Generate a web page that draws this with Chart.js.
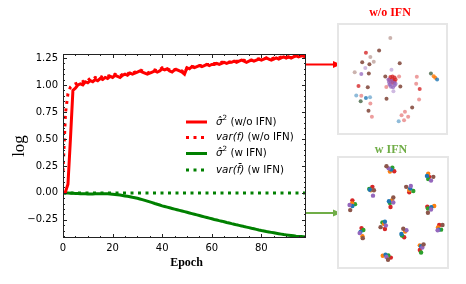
<!DOCTYPE html>
<html><head><meta charset="utf-8">
<script src="https://cdn.jsdelivr.net/npm/chart.js@4/dist/chart.umd.min.js"></script>
<style>
html,body{margin:0;padding:0;background:#fff;}
#wrap{position:relative;width:466px;height:284px;overflow:hidden;background:#fff;}
#main{position:absolute;left:0;top:0;}
.box{position:absolute;border:2px solid #e6e6e6;box-sizing:border-box;background:#fff;}
.box canvas{display:block;}
.ptitle{position:absolute;font:bold 12px "Liberation Serif",serif;text-align:center;width:100px;}
</style></head><body>
<div id="wrap">
<canvas id="main" width="466" height="284"></canvas>
<div class="ptitle" style="left:340px;top:5px;color:#ff0000">w/o IFN</div>
<div class="box" style="left:337px;top:23px;width:111px;height:112px"><canvas id="topP" width="107" height="108"></canvas></div>
<div class="ptitle" style="left:341px;top:142px;color:#70ad47">w IFN</div>
<div class="box" style="left:337px;top:156px;width:112px;height:113px"><canvas id="botP" width="108" height="109"></canvas></div>
</div>
<script>
// ---------- main chart data ----------
const epochs = [0,1,2,3,4,5,6,7,8,9,10,11,12,13,14,15,16,17,18,19,20,21,22,23,24,25,26,27,28,29,30,31,32,33,34,35,36,37,38,39,40,41,42,43,44,45,46,47,48,49,50,51,52,53,54,55,56,57,58,59,60,61,62,63,64,65,66,67,68,69,70,71,72,73,74,75,76,77,78,79,80,81,82,83,84,85,86,87,88,89,90,91,92,93,94,95,96,97,98];
const sigmaWoIFN = [0.00,0.01,0.08,0.50,0.95,0.97,1.00,1.01,1.00,1.03,1.02,1.04,1.03,1.05,1.04,1.06,1.05,1.07,1.06,1.08,1.07,1.09,1.08,1.07,1.09,1.10,1.09,1.11,1.10,1.11,1.12,1.13,1.12,1.11,1.10,1.11,1.12,1.13,1.12,1.13,1.15,1.14,1.15,1.13,1.12,1.14,1.14,1.13,1.12,1.10,1.16,1.15,1.17,1.16,1.17,1.18,1.17,1.18,1.19,1.18,1.19,1.19,1.20,1.19,1.20,1.21,1.20,1.21,1.21,1.22,1.21,1.22,1.23,1.22,1.21,1.22,1.23,1.22,1.23,1.24,1.23,1.24,1.25,1.24,1.23,1.24,1.25,1.24,1.25,1.26,1.25,1.26,1.25,1.26,1.27,1.26,1.27,1.27,1.25];
const varWoIFN = [0.20,0.74,0.92,0.98,1.00,1.01,1.02,1.03,1.03,1.05,1.04,1.06,1.05,1.07,1.06,1.08,1.07,1.08,1.08,1.09,1.08,1.10,1.09,1.08,1.10,1.11,1.10,1.12,1.11,1.12,1.13,1.14,1.13,1.12,1.11,1.12,1.13,1.14,1.13,1.14,1.16,1.15,1.15,1.14,1.13,1.14,1.15,1.14,1.13,1.11,1.16,1.16,1.17,1.17,1.18,1.18,1.18,1.18,1.19,1.19,1.19,1.20,1.20,1.20,1.21,1.21,1.21,1.21,1.22,1.22,1.22,1.22,1.23,1.23,1.22,1.23,1.23,1.23,1.24,1.24,1.24,1.24,1.25,1.25,1.24,1.25,1.25,1.25,1.26,1.26,1.26,1.26,1.26,1.27,1.27,1.27,1.27,1.27,1.26];
const sigmaWIFN = [0.000,-0.001,-0.002,-0.003,-0.004,-0.005,-0.006,-0.007,-0.008,-0.009,-0.010,-0.010,-0.010,-0.009,-0.009,-0.008,-0.008,-0.008,-0.009,-0.010,-0.012,-0.014,-0.017,-0.020,-0.024,-0.028,-0.032,-0.036,-0.041,-0.045,-0.050,-0.056,-0.062,-0.069,-0.076,-0.083,-0.090,-0.098,-0.105,-0.112,-0.120,-0.126,-0.132,-0.138,-0.144,-0.150,-0.156,-0.162,-0.168,-0.174,-0.180,-0.186,-0.192,-0.198,-0.204,-0.210,-0.216,-0.222,-0.228,-0.234,-0.240,-0.246,-0.251,-0.257,-0.262,-0.268,-0.274,-0.279,-0.285,-0.290,-0.296,-0.301,-0.306,-0.312,-0.317,-0.322,-0.328,-0.333,-0.338,-0.344,-0.349,-0.353,-0.358,-0.362,-0.366,-0.370,-0.374,-0.378,-0.382,-0.386,-0.389,-0.392,-0.395,-0.398,-0.401,-0.403,-0.405,-0.407,-0.409];
const varWIFN = [0,0,0,0,0,0,0,0,0,0,0,0,0,0,0,0,0,0,0,0,0,0,0,0,0,0,0,0,0,0,0,0,0,0,0,0,0,0,0,0,0,0,0,0,0,0,0,0,0,0,0,0,0,0,0,0,0,0,0,0,0,0,0,0,0,0,0,0,0,0,0,0,0,0,0,0,0,0,0,0,0,0,0,0,0,0,0,0,0,0,0,0,0,0,0,0,0,0,0];
const xTicks = [0,20,40,60,80];
const yTicks = [-0.25,0,0.25,0.5,0.75,1.0,1.25];
const seriesNames = ['σ̂² (w/o IFN)','var(f) (w/o IFN)','σ̂² (w IFN)','var(f̄) (w IFN)'];

// ---------- side panel data (embedding scatter, panel units 0-100) ----------
const woBrown = [[37,77.3],[20.6,66.1],[27.6,64.2],[57,65.2],[27,55.2],[43,52.4],[57.6,42.7],[26,42.1],[44.2,30.9],[26.7,19.4],[69.1,22.7]];
const woBrownLight = [[47.9,89.4],[28.5,71.2],[31.8,66.7],[13.3,56.4]];
const woRed = [[17,43.3],[76.4,40.3],[24.2,75.2],[48,52],[50,52.5],[52,51.5],[53,49.5],[52,47.5],[50,46.5],[48,47.5],[47,49.5],[50,49.5],[51,48]];
const woRedLight = [[56.4,52.4],[44,42.4],[73.6,52.1],[73,45.5],[75.8,30.3],[19.7,33.9],[28.5,26.4],[30,13.6],[62.1,18.5],[58.8,15.2],[65.2,13.6],[61.2,10.3]];
const woPurple = [[19.7,54.8],[46.5,47],[47,44.5],[48.5,42.5],[50.5,42],[52,44],[51.5,46.5],[49,48],[46,49.5],[48,45],[53,45.5]];
const woPurpleLight = [[23.6,60.6],[49,58.8],[50.9,38.2]];
const woBlue = [[24.2,31.8],[93.3,49.4]];
const woBlueLight = [[14.8,34.2],[28.2,32.4],[56,9.4]];
const woOrange = [[90,52.7],[91.5,51.2]];
const woOlive = [[87.3,55.2],[19.1,28.5]];

const wBrown  = [[43.7,94.3],[88.9,84.1],[31.6,71.2],[62.7,74.5],[50.3,64.3],[8.7,52.3],[83.7,49.8],[38,36],[20.8,25.5],[59.9,34.5],[97.9,38.1],[79.5,19.5],[45.2,4.8]];
const wPurple = [[45.8,92.2],[86.7,80.5],[30.7,66.1],[67.2,75.4],[50.3,59.5],[8.1,57.1],[86.7,52.9],[43.1,37.5],[17.8,30.3],[63,33],[93.1,33],[78.3,16.5],[43.7,7.5]];
const wOrange = [[47,89.2],[84,87.1],[28.6,71.2],[65.7,71.5],[48.8,61.6],[10.5,58.6],[89.8,56.2],[41.3,39],[20.5,27.3],[61.7,31.8],[93.4,35.7],[75.9,18.6],[40.1,8.7]];
const wGreen  = [[49.4,92.8],[84,82],[27.1,72.4],[69.6,70.6],[47,59.2],[13.3,58],[83.7,53.8],[39.8,40.5],[21.4,33.3],[58.7,27.9],[96.4,33.6],[77.1,11.7],[45.5,9]];
const wRed    = [[51.2,89.5],[84.9,84.1],[30.1,74.5],[65.7,69.4],[47.6,55.3],[10.8,61.6],[83.1,55.6],[42.2,34.2],[19.6,35.1],[60.8,26.4],[94.6,38.1],[75.9,14.1],[47.9,6.9]];
const wBlue   = [[48.2,91],[82.8,85],[27.7,71.8],[66.6,73],[46.1,60.7],[10.8,56.2],[87,55],[42.2,41.1],[18.7,31.5],[58.1,29.4],[94,33.6],[77.1,17.7],[42.8,9.6]];

// ---------- main chart ----------
const RED = '#ff0000', GREEN = '#008000';
const toXY = arr => arr.map((v,i)=>({x:epochs[i], y:v}));

function drawMixed(ctx, parts, x, y, size){
  let cx = x;
  for (const p of parts){
    const fs = p.sup ? size*0.7 : size;
    ctx.font = (p.it ? 'italic ' : '') + fs + 'px "DejaVu Sans"';
    ctx.fillText(p.t, cx, y - (p.sup ? size*0.42 : 0));
    cx += ctx.measureText(p.t).width;
  }
}

const decoPlugin = {
  id:'deco',
  afterDatasetsDraw(chart){
    const {ctx, chartArea:a, scales:{x, y}} = chart;
    ctx.save();
    // frame
    ctx.strokeStyle = '#222'; ctx.lineWidth = 1;
    ctx.strokeRect(a.left+0.5, a.top+0.5, a.right-a.left-1, a.bottom-a.top-1);
    // ticks, inward on all four sides
    ctx.beginPath();
    const major = 4, minor = 2;
    for (let v = x.min; v <= x.max + 1e-9; v += 5){
      const px = Math.round(x.getPixelForValue(v)) + 0.5;
      const L = (v % 20 === 0) ? major : minor;
      ctx.moveTo(px, a.bottom); ctx.lineTo(px, a.bottom - L);
      ctx.moveTo(px, a.top); ctx.lineTo(px, a.top + L);
    }
    const y0 = Math.ceil(y.min/0.05)*0.05;
    for (let v = y0; v <= y.max + 1e-9; v += 0.05){
      const py = Math.round(y.getPixelForValue(v)) + 0.5;
      const isMaj = Math.abs(Math.round(v/0.25)*0.25 - v) < 1e-6;
      const L = isMaj ? major : minor;
      ctx.moveTo(a.left, py); ctx.lineTo(a.left + L, py);
      ctx.moveTo(a.right, py); ctx.lineTo(a.right - L, py);
    }
    ctx.stroke();

    // legend
    const rows = [122, 137.5, 153.5, 170];
    const textParts = [
      [{t:'σ̂',it:true},{t:'2',sup:true},{t:' (w/o IFN)'}],
      [{t:'var(f)',it:true},{t:' (w/o IFN)'}],
      [{t:'σ̂',it:true},{t:'2',sup:true},{t:' (w IFN)'}],
      [{t:'var(f̄)',it:true},{t:' (w IFN)'}]
    ];
    chart.data.datasets.forEach((ds, i) => {
      const yy = rows[i];
      ctx.strokeStyle = ds.borderColor; ctx.lineWidth = ds.borderWidth;
      ctx.setLineDash(ds.borderDash || []);
      ctx.lineCap = 'butt';
      ctx.beginPath(); ctx.moveTo(186, yy); ctx.lineTo(207, yy); ctx.stroke();
      ctx.setLineDash([]);
      ctx.fillStyle = '#000'; ctx.textBaseline = 'middle'; ctx.textAlign = 'left';
      drawMixed(ctx, textParts[i], 216, yy, 10.3);
    });

    // axis titles
    ctx.fillStyle = '#000';
    ctx.textAlign = 'center'; ctx.textBaseline = 'middle';
    ctx.font = 'bold 12px "Liberation Serif"';
    ctx.fillText('Epoch', (a.left + a.right)/2 + 2, 263);
    ctx.save();
    ctx.translate(20, (a.top + a.bottom)/2);
    ctx.rotate(-Math.PI/2);
    ctx.font = '17px "Liberation Serif"';
    ctx.fillText('log', 0, 0);
    ctx.restore();

    // arrows to side panels
    const arrow = (x1, x2, yy, col) => {
      ctx.strokeStyle = col; ctx.fillStyle = col; ctx.lineWidth = 2;
      ctx.beginPath(); ctx.moveTo(x1, yy); ctx.lineTo(x2 - 6, yy); ctx.stroke();
      ctx.beginPath(); ctx.moveTo(x2, yy); ctx.lineTo(x2 - 8, yy - 3.5); ctx.lineTo(x2 - 8, yy + 3.5); ctx.closePath(); ctx.fill();
    };
    arrow(a.right, 341, 64.5, RED);
    arrow(a.right, 341, 213, '#70ad47');
    ctx.restore();
  }
};

new Chart(document.getElementById('main'), {
  type: 'line',
  data: {
    datasets: [
      {label: seriesNames[0], data: toXY(sigmaWoIFN), borderColor: RED, borderWidth: 3, pointRadius: 0, tension: 0},
      {label: seriesNames[1], data: toXY(varWoIFN), borderColor: RED, borderWidth: 3, borderDash: [3,4.5], pointRadius: 0, tension: 0},
      {label: seriesNames[2], data: toXY(sigmaWIFN), borderColor: GREEN, borderWidth: 3, pointRadius: 0, tension: 0},
      {label: seriesNames[3], data: toXY(varWIFN), borderColor: GREEN, borderWidth: 3, borderDash: [3,4.5], pointRadius: 0, tension: 0}
    ]
  },
  options: {
    responsive: false, animation: false,
    layout: {padding: {left: 0, right: 160, top: 54, bottom: 0}},
    plugins: {legend: {display: false}, tooltip: {enabled: false}},
    scales: {
      x: {
        type: 'linear', min: 0, max: 98,
        grid: {display: false, drawTicks: false}, border: {display: false},
        afterBuildTicks: s => { s.ticks = xTicks.map(v => ({value: v})); },
        afterFit: s => { s.height = 46; },
        ticks: {color: '#000', font: {family: 'DejaVu Sans', size: 10}, padding: 4, maxRotation: 0, autoSkip: false,
                callback: v => String(v)}
      },
      y: {
        type: 'linear', min: -0.418, max: 1.287,
        grid: {display: false, drawTicks: false}, border: {display: false},
        afterBuildTicks: s => { s.ticks = yTicks.map(v => ({value: v})); },
        afterFit: s => { s.width = 63; },
        ticks: {color: '#000', font: {family: 'DejaVu Sans', size: 10}, padding: 5, autoSkip: false,
                callback: v => (v < 0 ? '\u2212' : '') + Math.abs(v).toFixed(2)}
      }
    }
  },
  plugins: [decoPlugin]
});

// ---------- side panels ----------
const pts = arr => arr.map(p => ({x: p[0], y: p[1]}));
const sc = (arr, col, r) => ({data: pts(arr), backgroundColor: col, borderWidth: 0, pointRadius: r || 2, pointHoverRadius: 0});
const panelOpts = {
  responsive: false, animation: false, events: [],
  layout: {padding: 0},
  plugins: {legend: {display: false}, tooltip: {enabled: false}},
  scales: {x: {type: 'linear', min: 0, max: 100, display: false}, y: {type: 'linear', min: 0, max: 100, display: false}}
};
new Chart(document.getElementById('topP'), {
  type: 'scatter',
  data: {datasets: [
    sc(woBrownLight, 'rgba(140,86,75,0.45)'),
    sc(woRedLight, 'rgba(214,39,40,0.45)'),
    sc(woBlueLight, 'rgba(31,119,180,0.5)'),
    sc(woPurpleLight, 'rgba(148,103,189,0.45)'),
    sc(woPurple, 'rgba(148,103,189,0.75)'),
    sc(woRed, 'rgba(214,39,40,0.8)'),
    sc(woBrown, 'rgba(140,86,75,0.95)'),
    sc(woBlue, 'rgba(31,119,180,0.8)'),
    sc(woOrange, 'rgba(255,127,14,0.85)'),
    sc(woOlive, 'rgba(80,110,80,0.85)')
  ]},
  options: panelOpts
});
new Chart(document.getElementById('botP'), {
  type: 'scatter',
  data: {datasets: [
    sc(wBrown, '#8c564b', 2.2),
    sc(wPurple, '#9467bd', 2.2),
    sc(wBlue, '#1f77b4', 2.2),
    sc(wOrange, '#ff7f0e', 2.2),
    sc(wGreen, '#2ca02c', 2.2),
    sc(wRed, '#d62728', 2.2)
  ]},
  options: panelOpts
});
</script>
</body></html>
